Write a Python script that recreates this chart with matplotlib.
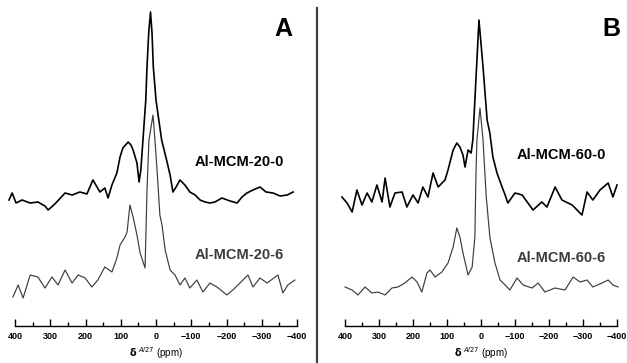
import matplotlib.pyplot as plt
import numpy as np

# 27Al MAS NMR, ppm vs intensity (arbitrary units, relative to each baseline)
a0_ppm = [417, 408, 397, 380, 357, 335, 315, 306, 287, 258, 238, 216, 196, 179, 159, 145,
          136, 125, 111, 102, 94, 79, 71, 65, 54, 48, 43, 37, 29, 25.5, 20.7, 15.6, 11.3,
          7.6, 0, -16, -30, -40, -48, -57, -68, -82, -96, -111, -125, -139, -153, -167,
          -187, -210, -230, -244, -258, -275, -295, -312, -332, -352, -372, -389]
a0_int = [0, 7, -3, 0, -3, -2, -6, -10, -4, 7, 5, 8, 6, 20, 8, 12,
          2, 15, 27, 43, 52, 58, 55, 50, 37, 18, 30, 60, 100, 133, 167, 188, 167,
          133, 100, 60, 40, 25, 8, 13, 20, 15, 8, 5, 0, -2, -3, -2,
          2, -1, -3, 3, 7, 10, 13, 8, 7, 4, 5, 8]

a6_ppm = [406, 391, 377, 357, 335, 315, 295, 278, 258, 238, 221, 201, 182, 165, 145, 125,
          111, 102, 88, 82, 74, 65, 54, 45, 31, 25.5, 20, 8.5, 3, -3, -11, -17, -26,
          -40, -54, -68, -82, -96, -116, -133, -153, -173, -201, -218, -238, -261, -275,
          -295, -315, -346, -360, -374, -394]
a6_int = [-12, 0, -13, 10, 8, -3, 8, 0, 15, 2, 10, 7, -2, 5, 18, 13,
          27, 40, 48, 53, 80, 68, 50, 32, 17, 95, 145, 170, 145, 115, 70, 60, 35,
          15, 10, 0, 7, -3, 5, -7, 2, -2, -10, -5, 2, 10, -2,
          7, 2, 10, -8, 0, 5]

b0_ppm = [409, 394, 379, 365, 350, 335, 321, 306, 291, 282, 268, 253, 232, 218, 200, 185,
          171, 156, 141, 126, 106, 97, 82, 71, 62, 53, 47, 38, 29, 24, 18, 12, 6,
          -6, -18, -26, -35, -47, -62, -71, -79, -100, -121, -138, -153, -179, -194,
          -218, -238, -268, -297, -312, -329, -350, -374, -388, -400]
b0_int = [3, -3, -12, 10, -5, 7, -2, 15, -2, 22, -7, 7, 8, -7, 5, -3,
          13, 3, 27, 13, 20, 30, 50, 57, 53, 45, 33, 50, 47, 60, 100, 140, 180,
          133, 80, 67, 43, 27, 13, 5, -3, 7, 5, -3, -10, -2, -7,
          13, 0, -5, -15, 8, 0, 10, 17, 3, 15]

b6_ppm = [400, 379, 362, 341, 321, 303, 282, 262, 244, 224, 203, 188, 174, 159, 150, 135,
          115, 97, 82, 71, 62, 53, 38, 26, 18, 15, 12, 3, -6, -15, -26, -41, -56,
          -71, -85, -106, -124, -150, -168, -188, -218, -247, -271, -291, -312, -329,
          -356, -374, -388, -403]
b6_int = [0, -3, -8, 0, -6, -5, -8, -1, 0, 4, 10, 5, -5, 14, 17, 10,
          15, 24, 40, 59, 50, 34, 12, 20, 50, 110, 147, 179, 147, 92, 50, 24, 7,
          2, -3, 9, 2, -1, 4, -5, -1, -3, 10, 5, 7, 0,
          4, 7, 2, 0]

W, H = 627, 363
panels = [
    dict(label="A", label_xy=(292, 17),
         spectra=[(a0_ppm, a0_int, "Al-MCM-20-0"), (a6_ppm, a6_int, "Al-MCM-20-6")],
         rect=[15 / W, 37 / H, 282 / W, 321 / H], offsets=[126, 41],
         text_y=[164, 71]),
    dict(label="B", label_xy=(620, 17),
         spectra=[(b0_ppm, b0_int, "Al-MCM-60-0"), (b6_ppm, b6_int, "Al-MCM-60-6")],
         rect=[345 / W, 37 / H, 272 / W, 321 / H], offsets=[126, 39],
         text_y=[171, 68]),
]

plt.rcParams['font.family'] = ['Liberation Sans', 'DejaVu Sans']
fig = plt.figure(figsize=(6.27, 3.63), dpi=100)

styles = [dict(color='black', lw=1.2), dict(color='#3c3c3c', lw=0.85)]
txt_colors = ['black', '#3c3c3c']

for p in panels:
    ax = fig.add_axes(p["rect"])
    for (x, y, name), off, st, ty, tc in zip(p["spectra"], p["offsets"], styles, p["text_y"], txt_colors):
        ax.plot(x, np.array(y) + off, clip_on=False, **st)
        ax.text(-235, ty, name, fontsize=10.5, fontweight='bold', color=tc,
                ha='center', va='center')
    ax.set_xlim(400, -400)
    ax.set_ylim(0, 321)
    lx, ly = p["label_xy"]
    fig.text(lx / W, 1 - ly / H, p["label"], fontsize=18, fontweight='bold',
             ha='right', va='top')
    for s in ['top', 'left', 'right']:
        ax.spines[s].set_visible(False)
    ax.spines['bottom'].set_linewidth(1.0)
    ax.set_yticks([])
    ax.set_xticks(np.arange(400, -401, -100))
    ax.set_xticks(np.arange(350, -351, -100), minor=True)
    ax.tick_params(axis='x', which='major', direction='in', length=5, width=1.0,
                   labelsize=6.5, pad=4)
    ax.tick_params(axis='x', which='minor', direction='in', length=3, width=1.0)
    for t in ax.get_xticklabels():
        t.set_fontweight('bold')
    ax.text(0.5, -27 / 321, r"$\mathbf{\delta}^{\ Al27}$ (ppm)", transform=ax.transAxes,
            fontsize=7, ha='center', va='center')

# divider between the panels
fig.add_artist(plt.Line2D([317 / W, 317 / W], [0, 355 / H], color='#404040', lw=1.6))

fig.savefig("out.png", dpi=100)
